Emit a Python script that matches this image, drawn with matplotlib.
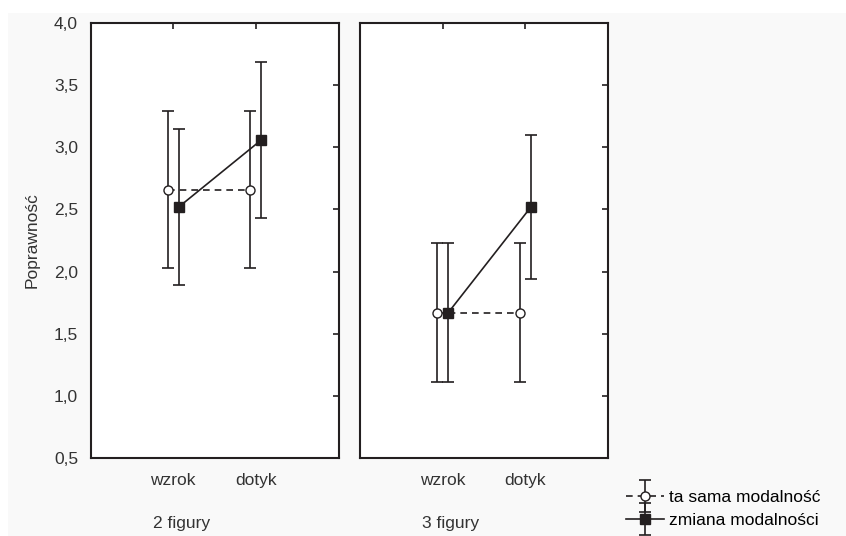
import numpy as np
import matplotlib
matplotlib.use('Agg')
import matplotlib.pyplot as plt
from matplotlib.patches import Rectangle
from matplotlib.legend_handler import HandlerErrorbar

plt.rcParams['font.family'] = ['Liberation Sans', 'DejaVu Sans']

# data
categories = ['wzrok', 'dotyk']
groups = ['2 figury', '3 figury']
series = ['ta sama modalność', 'zmiana modalności']
# values for wzrok, dotyk in each group
same_means = [[2.66, 2.66], [1.67, 1.67]]
same_err = [[0.63, 0.63], [0.56, 0.56]]
change_means = [[2.52, 3.06], [1.67, 2.52]]
change_err = [[0.63, 0.63], [0.56, 0.58]]
yticks = [0.5, 1.0, 1.5, 2.0, 2.5, 3.0, 3.5, 4.0]
ytick_labels = ['0,5', '1,0', '1,5', '2,0', '2,5', '3,0', '3,5', '4,0']

W, H = 846, 536
fig = plt.figure(figsize=(W / 100, H / 100), dpi=100)
fig.patch.set_facecolor('white')
# light grey page behind the plot
fig.patches.append(Rectangle((8 / W, 0), 1, 1 - 13 / H, transform=fig.transFigure,
                             facecolor='#f9f9f9', edgecolor='none', zorder=-10))

bottom = 1 - 458 / H
height = (458 - 23) / H
lefts = [90.5 / W, 360 / W]
width = 248 / W
col = '#231f20'
tcol = '#333333'
fs = 12.5
xpos = np.array([1, 2])
off = 0.068

handles = []
for g in range(2):
    ax = fig.add_axes([lefts[g], bottom, width, height])
    ax.set_facecolor('white')
    h1 = ax.errorbar(xpos - off, same_means[g], yerr=same_err[g], fmt='o', ls='--',
                     color=col, mfc='white', mec=col, ms=6.5, lw=1.2, elinewidth=1.2,
                     capsize=4, capthick=1.2, dashes=(4, 3), label=series[0])
    h2 = ax.errorbar(xpos + off, change_means[g], yerr=change_err[g], fmt='s', ls='-',
                     color=col, mfc=col, mec=col, ms=6.5, lw=1.2, elinewidth=1.2,
                     capsize=4, capthick=1.2, label=series[1])
    if g == 0:
        handles = [h1, h2]
    ax.set_xlim(0, 3)
    ax.set_ylim(0.5, 4.0)
    ax.set_xticks(xpos)
    ax.set_xticklabels(categories, fontsize=fs, color=tcol)
    ax.set_yticks(yticks)
    if g == 0:
        ax.set_yticklabels(ytick_labels, fontsize=fs, color=tcol)
        ax.set_ylabel('Poprawność', fontsize=fs, color=tcol, labelpad=10)
    else:
        ax.set_yticklabels([])
    ax.tick_params(axis='both', direction='in', length=4, width=1.2, color=col,
                   left=False, bottom=False, right=True, top=True,
                   labelleft=(g == 0), labelright=False, labeltop=False)
    ax.tick_params(axis='x', pad=11)
    ax.tick_params(axis='y', pad=9)
    for s in ax.spines.values():
        s.set_color(col)
        s.set_linewidth(1.5)
    ax.text(1.1, -0.15, groups[g], transform=ax.get_xaxis_transform(), ha='center',
            va='center', fontsize=fs, color=tcol)

fig.legend(handles, series, loc='center left', bbox_to_anchor=(626 / W, 1 - 509 / H),
           frameon=False, fontsize=fs, handlelength=2.2, handletextpad=0.3,
           labelspacing=0.45, borderpad=0, borderaxespad=0,
           handler_map={type(handles[0]): HandlerErrorbar(yerr_size=0.9)})

fig.savefig('out.png', dpi=100, facecolor=fig.get_facecolor())
